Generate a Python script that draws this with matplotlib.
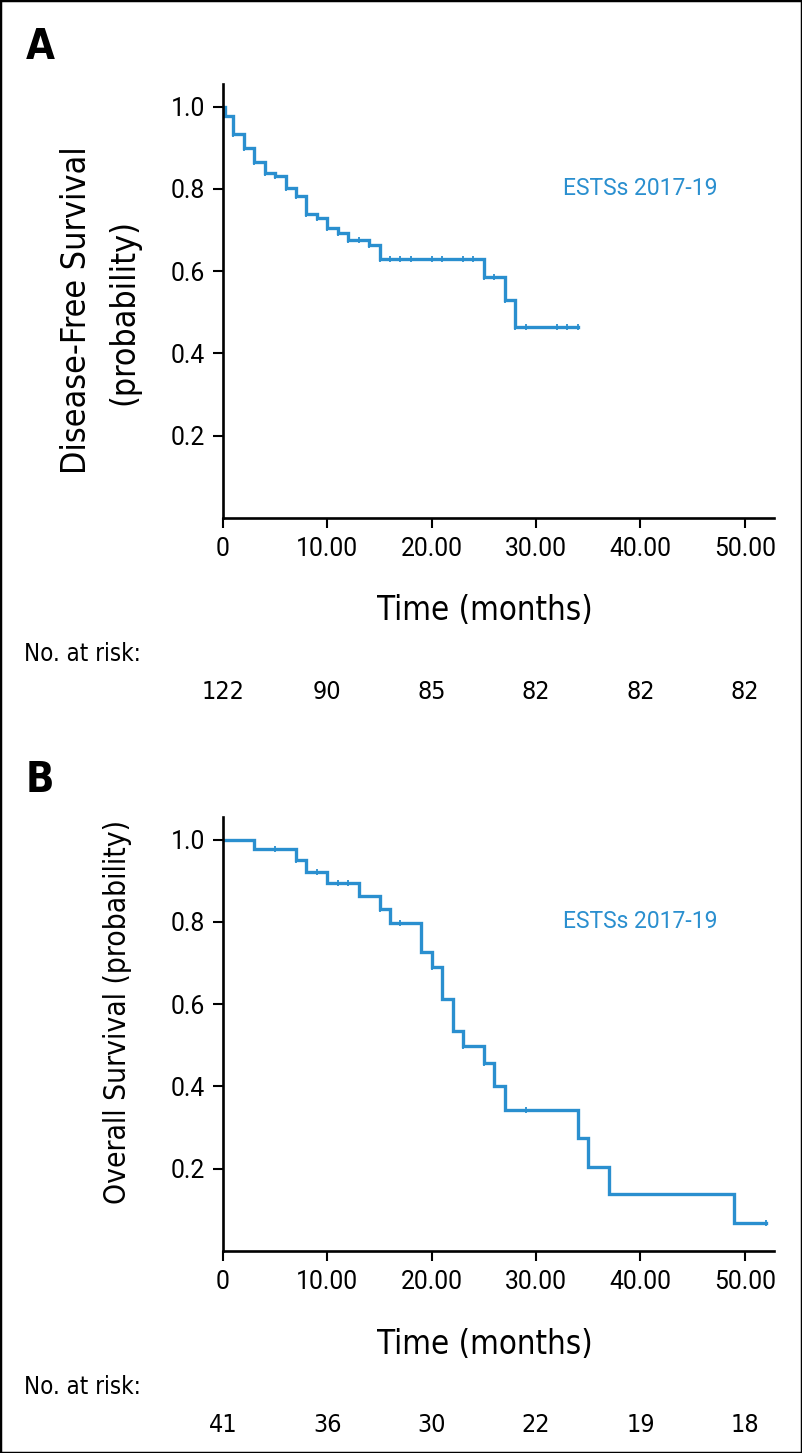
import matplotlib
matplotlib.use("Agg")
import matplotlib.pyplot as plt
from matplotlib import font_manager as fm
from matplotlib.patches import Rectangle

# Panel A: disease-free survival (step times, survival after each step)
dfs_times = [0.2, 1, 2, 3, 4, 5, 6, 7, 8, 9, 10, 11, 12, 14, 15, 25, 27, 28]
dfs_surv = [0.977, 0.934, 0.900, 0.866, 0.839, 0.831, 0.801, 0.783, 0.740,
            0.730, 0.706, 0.692, 0.676, 0.664, 0.630, 0.586, 0.531, 0.465]
dfs_end = 34
dfs_censor = [0, 1, 2, 3, 4, 5, 6, 7, 8, 9, 10, 11, 12, 13, 14, 15, 16, 17, 18,
              20, 21, 23, 24, 25, 26, 27, 28, 29, 32, 33, 34]
dfs_at_risk = ["122", "90", "85", "82", "82", "82"]

# Panel B: overall survival
os_times = [3, 7, 8, 10, 13, 15, 16, 19, 20, 21, 22, 23, 25, 26, 27, 34, 35, 37, 49]
os_surv = [0.976, 0.950, 0.922, 0.895, 0.864, 0.831, 0.797, 0.727, 0.690, 0.613,
           0.536, 0.499, 0.457, 0.400, 0.343, 0.274, 0.205, 0.138, 0.069]
os_end = 52
os_censor = [5, 7, 9, 11, 12, 15, 17, 20, 23, 25, 29, 52]
os_at_risk = ["41", "36", "30", "22", "19", "18"]

x_ticks = [0, 10, 20, 30, 40, 50]
x_labels = ["0", "10.00", "20.00", "30.00", "40.00", "50.00"]
y_ticks = [0.2, 0.4, 0.6, 0.8, 1.0]
y_labels = ["0.2", "0.4", "0.6", "0.8", "1.0"]

blue = "#2a8fcf"
tickfont = ["Roboto", "DejaVu Sans"]

# pick a narrow sans for the labels if one is installed
names = {f.name for f in fm.fontManager.ttflist}
if "Liberation Sans Narrow" in names:
    narrow = dict(family="Liberation Sans Narrow")
else:
    cond = [f for f in fm.fontManager.ttflist
            if f.stretch in ("condensed", "semi-condensed")
            and f.name in ("DejaVu Sans", "Noto Sans", "Open Sans", "Roboto", "Inter")]
    if cond:
        narrow = dict(family=cond[0].name, stretch=cond[0].stretch)
    else:
        narrow = dict(family="Liberation Sans")

W, H = 802, 1453
XMAX = 52.8
fig = plt.figure(figsize=(W / 100, H / 100), dpi=100)
renderer = fig.canvas.get_renderer()


def fy(px):
    return 1 - px / H


def fit(t, target, vertical=False):
    bb = t.get_window_extent(renderer=renderer)
    size = bb.height if vertical else bb.width
    t.set_fontsize(t.get_fontsize() * target / size)
    return t


def step_xy(times, surv, end):
    xs = [0] + list(times) + [end]
    ys = [1.0] + list(surv) + [surv[-1]]
    return xs, ys


def surv_at(t, times, surv):
    s = 1.0
    for ti, si in zip(times, surv):
        if ti <= t:
            s = si
    return s


# tick label size from the width of "10.00" (about 62 px)
probe = fig.text(0, 0, "10.00", family=tickfont, fontsize=18)
tick_size = fit(probe, 62).get_fontsize()
probe.remove()


def km_panel(top_px, times, surv, end, censor, counts):
    bottom_px = top_px + 434
    ax = fig.add_axes([223 / W, fy(bottom_px), 551 / W, 434 / H])
    xs, ys = step_xy(times, surv, end)
    ax.step(xs, ys, where="post", color=blue, lw=2.4, solid_joinstyle="miter")
    cy = [surv_at(t, times, surv) for t in censor]
    ax.plot(censor, cy, ls="none", marker="|", ms=5, mew=1.3, color=blue)
    ax.set_xlim(0, XMAX)
    ax.set_ylim(0, 1.055)
    ax.set_xticks(x_ticks)
    ax.set_xticklabels(x_labels, family=tickfont, fontsize=tick_size)
    ax.set_yticks(y_ticks)
    ax.set_yticklabels(y_labels, family=tickfont, fontsize=tick_size)
    for s in ["top", "right"]:
        ax.spines[s].set_visible(False)
    for s in ["left", "bottom"]:
        ax.spines[s].set_linewidth(1.9)
    ax.tick_params(axis="both", length=7, width=1.5)
    ax.tick_params(axis="x", pad=7)
    ax.tick_params(axis="y", pad=6)
    ax.text(40.0, 0.8, "ESTSs 2017-19", color=blue, fontsize=16.5,
            family=tickfont, ha="center", va="center")
    t = fig.text(484.5 / W, fy(bottom_px + 93), "Time (months)", fontsize=28,
                 ha="center", va="center", **narrow)
    fit(t, 216)
    nar = fig.text(24 / W, fy(bottom_px + 136), "No. at risk:", fontsize=20,
                   ha="left", va="center", **narrow)
    fit(nar, 116)
    for tk, c in zip(x_ticks, counts):
        xf = (223 + tk * 551 / XMAX) / W
        fig.text(xf, fy(bottom_px + 174), c, fontsize=nar.get_fontsize() * 1.05,
                 ha="center", va="center", **narrow)
    return ax


# panel A
axA = km_panel(84, dfs_times, dfs_surv, dfs_end, dfs_censor, dfs_at_risk)
l1 = fig.text(77 / W, fy(310), "Disease-Free Survival", rotation=90,
              fontsize=28, ha="center", va="center", **narrow)
fit(l1, 328, vertical=True)
fig.text(124 / W, fy(312), "(probability)", rotation=90,
         fontsize=l1.get_fontsize(), ha="center", va="center", **narrow)
fig.text(40 / W, fy(47), "A", fontsize=30, fontweight="bold",
         ha="center", va="center", **narrow)

# panel B
axB = km_panel(817, os_times, os_surv, os_end, os_censor, os_at_risk)
fig.text(118 / W, fy(1012), "Overall Survival (probability)", rotation=90,
         fontsize=l1.get_fontsize() * 0.88, ha="center", va="center", **narrow)
fig.text(40 / W, fy(780), "B", fontsize=30, fontweight="bold",
         ha="center", va="center", **narrow)

fig.patches.append(Rectangle((0, 0), 1, 1, transform=fig.transFigure,
                             fill=False, ec="black", lw=2.5, zorder=10))

fig.savefig("out.png", dpi=100)
